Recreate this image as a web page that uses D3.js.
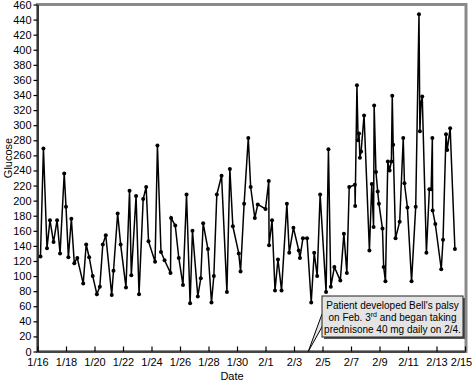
<!doctype html>
<html lang="en">
<head>
<meta charset="UTF-8">
<title>Glucose readings, 1/16 - 2/15</title>
<script src="https://d3js.org/d3.v7.min.js"></script>
<style>
body { margin: 0; background: #fff; font-family: "Liberation Sans", Arial, sans-serif; }
svg { display: block; }
.axis path, .axis line { stroke: black; stroke-width: 1.2; }
.axis text { font-family: "Liberation Sans", Arial, sans-serif; font-size: 11px; fill: black; }
.note text { font-family: "Liberation Sans", Arial, sans-serif; font-size: 10px; fill: black; }
</style>
</head>
<body>
<div id="plot"></div>
<script>

// reading times (month/day hour:minute) and glucose values
var times = [
	"01/16 05:00", "01/16 10:00", "01/16 16:00", "01/16 21:00",
	"01/17 03:00", "01/17 09:00", "01/17 14:00", "01/17 21:00",
	"01/18 00:00", "01/18 04:00", "01/18 09:00", "01/18 14:00", "01/18 19:00",
	"01/19 05:00", "01/19 10:00", "01/19 15:00", "01/19 21:00",
	"01/20 04:00", "01/20 09:00", "01/20 14:00", "01/20 19:00",
	"01/21 05:00", "01/21 08:00", "01/21 15:00", "01/21 20:00",
	"01/22 05:00", "01/22 11:00", "01/22 14:00", "01/22 22:00",
	"01/23 03:00", "01/23 10:00", "01/23 15:00", "01/23 19:00",
	"01/24 06:00", "01/24 10:00", "01/24 16:00", "01/24 22:00",
	"01/25 08:00", "01/25 09:00", "01/25 16:00", "01/25 22:00",
	"01/26 05:00", "01/26 11:00", "01/26 17:00", "01/26 21:00",
	"01/27 06:00", "01/27 11:00", "01/27 15:00", "01/27 23:00",
	"01/28 05:00", "01/28 09:00", "01/28 14:00", "01/28 22:00",
	"01/29 07:00", "01/29 12:00", "01/29 17:00",
	"01/30 03:00", "01/30 06:00", "01/30 12:00", "01/30 19:00", "01/30 23:00",
	"01/31 06:00", "01/31 11:00",
	"02/01 00:00", "02/01 05:30", "02/01 06:00", "02/01 11:00", "02/01 16:00", "02/01 21:00",
	"02/02 03:00", "02/02 12:00", "02/02 16:00", "02/02 23:00",
	"02/03 08:00", "02/03 10:00", "02/03 15:00", "02/03 22:00",
	"02/04 05:00", "02/04 10:00", "02/04 15:00", "02/04 20:00",
	"02/05 06:00", "02/05 10:00", "02/05 14:00", "02/05 20:00",
	"02/06 06:00", "02/06 12:00", "02/06 17:00", "02/06 21:00",
	"02/07 06:30", "02/07 07:00", "02/07 10:00", "02/07 12:00", "02/07 13:30", "02/07 15:00", "02/07 17:00", "02/07 22:00",
	"02/08 07:00", "02/08 11:00", "02/08 14:00", "02/08 15:00", "02/08 18:00", "02/08 21:00", "02/08 23:00",
	"02/09 05:00", "02/09 07:00", "02/09 10:00", "02/09 14:00", "02/09 17:00", "02/09 20:00", "02/09 21:30", "02/09 23:00",
	"02/10 03:00", "02/10 10:00", "02/10 16:00", "02/10 18:00", "02/10 23:00",
	"02/11 06:00", "02/11 13:00", "02/11 18:30", "02/11 20:00", "02/11 22:00",
	"02/12 00:00", "02/12 07:00", "02/12 12:00", "02/12 15:00", "02/12 17:00", "02/12 17:30", "02/12 22:00",
	"02/13 08:00", "02/13 11:00", "02/13 16:00", "02/13 18:00", "02/13 23:00",
	"02/14 07:00"
];

var glucose = [
	126, 269, 137, 174,
	145, 174, 130, 236,
	192, 125, 176, 117, 124,
	90, 142, 125, 100,
	76, 86, 142, 154,
	75, 107, 183, 142,
	85, 213, 101, 206,
	76, 202, 218, 146,
	119, 273, 132, 121,
	104, 177, 167, 124,
	88, 208, 64, 160,
	73, 97, 170, 136,
	65, 100, 208, 233,
	79, 242, 166,
	130, 106, 196, 283, 218,
	177, 195,
	189, 226, 141, 174, 81, 122,
	81, 196, 131, 164,
	134, 124, 150, 150,
	65, 131, 100, 208,
	79, 268, 86, 112,
	94, 156, 104, 218,
	221, 193, 353, 280, 289, 257, 265, 313,
	134, 222, 165, 326, 238, 212, 196,
	163, 112, 93, 252, 240, 252, 339, 274,
	150, 172, 283, 223, 191,
	93, 192, 447, 292, 330,
	338, 131, 215, 215, 283, 187, 169,
	109, 148, 288, 267, 296,
	136
];

var yTicks = d3.range(0, 461, 20);
var xTickLabels = ["1/16", "1/18", "1/20", "1/22", "1/24", "1/26", "1/28", "1/30",
	"2/1", "2/3", "2/5", "2/7", "2/9", "2/11", "2/13", "2/15"];

var noteLines = ["Patient developed Bell's palsy", "on Feb. 3", "prednisone 40 mg daily on 2/4."];

var width = 476;
var height = 381;
var plotLeft = 37.5, plotRight = 466, plotTop = 4.5, plotBottom = 351.5;

var parseTime = d3.timeParse("%m/%d %H:%M");
var parseDay = d3.timeParse("%m/%d");

var data = times.map(function (t, i) {
	return { time: parseTime(t), glucose: glucose[i] };
});

var svg = d3.select("#plot").append("svg")
	.attr("width", width)
	.attr("height", height);

var xScale = d3.scaleTime()
	.domain([parseDay("01/16"), parseDay("02/15")])
	.range([plotLeft, 465]);

var yScale = d3.scaleLinear()
	.domain([0, 460])
	.range([plotBottom, plotTop]);

// gray frame (top and right edges show)
svg.append("rect")
	.attr("x", plotLeft)
	.attr("y", plotTop)
	.attr("width", plotRight - plotLeft)
	.attr("height", plotBottom - plotTop)
	.style("fill", "none")
	.style("stroke", "#8a8a8a")
	.style("stroke-width", 3);

var xAxis = d3.axisBottom(xScale)
	.tickValues(xTickLabels.map(function (s) { return parseDay(s); }))
	.tickFormat(d3.timeFormat("%-m/%-d"))
	.tickSizeInner(-5)
	.tickSizeOuter(0)
	.tickPadding(7);

var gx = svg.append("g")
	.attr("class", "axis")
	.attr("transform", "translate(0," + plotBottom + ")")
	.call(xAxis);

gx.selectAll(".tick text").filter(function (d, i) { return i === xTickLabels.length - 1; })
	.attr("dx", -4);

var yAxis = d3.axisLeft(yScale)
	.tickValues(yTicks)
	.tickSizeInner(4)
	.tickSizeOuter(0)
	.tickPadding(2);

svg.append("g")
	.attr("class", "axis")
	.attr("transform", "translate(" + plotLeft + ",0)")
	.call(yAxis);

svg.append("text")
	.attr("x", 232)
	.attr("y", 380)
	.attr("text-anchor", "middle")
	.style("font-size", "11px")
	.text("Date");

svg.append("text")
	.attr("transform", "translate(12,158) rotate(-90)")
	.attr("text-anchor", "middle")
	.style("font-size", "11px")
	.text("Glucose");

var line = d3.line()
	.x(function (d) { return xScale(d.time); })
	.y(function (d) { return yScale(d.glucose); });

svg.append("path")
	.attr("d", line(data))
	.style("fill", "none")
	.style("stroke", "black")
	.style("stroke-width", 1.5)
	.style("stroke-linejoin", "miter");

svg.selectAll("circle.pt")
	.data(data)
	.enter().append("circle")
	.attr("class", "pt")
	.attr("cx", function (d) { return xScale(d.time); })
	.attr("cy", function (d) { return yScale(d.glucose); })
	.attr("r", 2)
	.style("fill", "black");

// callout
var note = svg.append("g").attr("class", "note");
var bx = 322, by = 296, bw = 141, bh = 41;
var tipX = xScale(parseDay("02/04")), tipY = yScale(0);

note.append("rect")
	.attr("x", bx + 2).attr("y", by + 2)
	.attr("width", bw).attr("height", bh)
	.style("fill", "#555");

note.append("path")
	.attr("d", "M" + bx + "," + (by + 18) + "L" + tipX + "," + tipY + "L" + (bx + 0.5) + "," + (by + 30))
	.style("fill", "#e4e4e4")
	.style("stroke", "black")
	.style("stroke-width", 1);

note.append("rect")
	.attr("x", bx).attr("y", by)
	.attr("width", bw).attr("height", bh)
	.style("fill", "#e4e4e4")
	.style("stroke", "#222")
	.style("stroke-width", 1);

note.append("text")
	.attr("x", bx + bw / 2).attr("y", by + 13)
	.attr("text-anchor", "middle")
	.text(noteLines[0]);

var t2 = note.append("text")
	.attr("x", bx + bw / 2).attr("y", by + 25)
	.attr("text-anchor", "middle");
t2.append("tspan").text(noteLines[1]);
t2.append("tspan").attr("dy", -4).style("font-size", "7px").text("rd");
t2.append("tspan").attr("dy", 4).text(" and began taking");

note.append("text")
	.attr("x", bx + bw / 2).attr("y", by + 37)
	.attr("text-anchor", "middle")
	.text(noteLines[2]);

</script>
</body>
</html>
